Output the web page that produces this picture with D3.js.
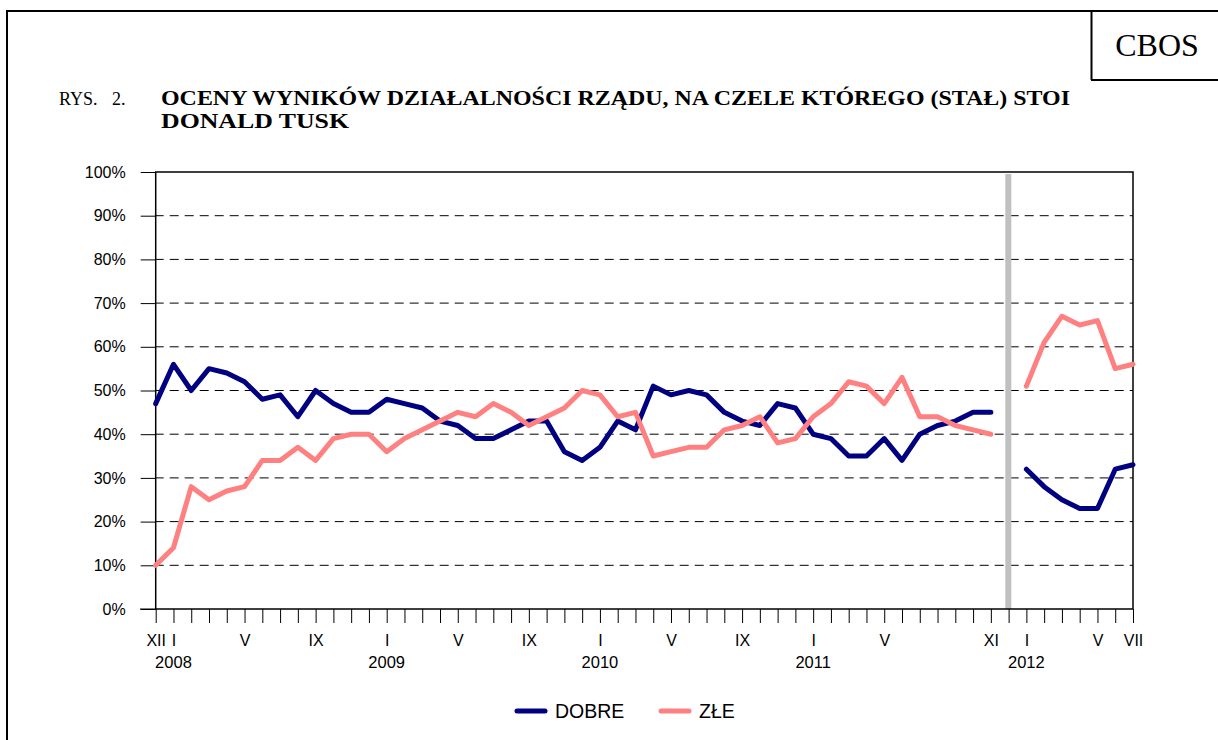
<!DOCTYPE html>
<html>
<head>
<meta charset="utf-8">
<script src="https://cdn.jsdelivr.net/npm/d3@7/dist/d3.min.js"></script>
<style>
  html, body { margin: 0; padding: 0; background: #fff; }
  svg { display: block; }
</style>
</head>
<body>
<svg id="chart" width="1218" height="740"></svg>
<script>
'use strict';

// months from XII 2007 to VII 2012, one slot per month (XII 2011 is the break)
var startYear = 2007, startMonth = 12, monthCount = 56;
var romans = ['I','II','III','IV','V','VI','VII','VIII','IX','X','XI','XII'];

// DOBRE - good opinions (%)
var dobre = [47,56,50,55,54,52,48,49,44,50,47,45,45,48,47,46,43,42,39,
             39,41,43,43,36,34,37,43,41,51,49,50,49,45,43,42,47,46,40,39,35,
             35,39,34,40,42,43,45,45,
             null,
             32,28,25,23,23,32,33];

// ZŁE - bad opinions (%)
var zle = [10,14,28,25,27,28,34,34,37,34,39,40,40,36,39,41,43,45,44,
           47,45,42,44,46,50,49,44,45,35,36,37,37,41,42,44,38,39,44,47,52,
           51,47,53,44,44,42,41,40,
           null,
           51,61,67,65,66,55,56];

// which months get a roman label under the axis
var labelledMonths = ['2007-12','2008-1','2008-5','2008-9','2009-1','2009-5','2009-9',
                      '2010-1','2010-5','2010-9','2011-1','2011-5','2011-11',
                      '2012-1','2012-5','2012-7'];
var yearLabels = ['2008','2009','2010','2011','2012'];
var breakMonth = '2011-12';

var yTicks = [0,10,20,30,40,50,60,70,80,90,100];

var seriesNames = ['DOBRE', 'ZŁE'];
var seriesColors = ['#000080', '#ff8080'];

// build month keys
var months = d3.range(monthCount).map(function(i) {
  var m = (startMonth - 1 + i) % 12,
      y = startYear + Math.floor((startMonth - 1 + i) / 12);
  return { key: y + '-' + (m + 1), year: y, month: m + 1, roman: romans[m] };
});
var keys = months.map(function(d) { return d.key; });

var svg = d3.select('#chart');
var sans = '"Liberation Sans", Arial, sans-serif',
    serif = '"Liberation Serif", "Times New Roman", serif';

var plot = { left: 155.7, right: 1133, top: 172, bottom: 609 };

var x = d3.scalePoint().domain(keys).range([plot.left, plot.right]);
var y = d3.scaleLinear().domain([0, 100]).range([plot.bottom, plot.top]);

// ---- page frame
svg.append('line').attr('x1', 7).attr('x2', 1218).attr('y1', 11).attr('y2', 11)
  .style('stroke', '#000').style('stroke-width', 2);
svg.append('line').attr('x1', 7).attr('x2', 7).attr('y1', 10).attr('y2', 740)
  .style('stroke', '#000').style('stroke-width', 2);
svg.append('line').attr('x1', 1091.5).attr('x2', 1091.5).attr('y1', 11).attr('y2', 80)
  .style('stroke', '#000').style('stroke-width', 2);
svg.append('line').attr('x1', 1091).attr('x2', 1218).attr('y1', 80).attr('y2', 80)
  .style('stroke', '#000').style('stroke-width', 2);
svg.append('text').attr('x', 1157).attr('y', 56).attr('text-anchor', 'middle')
  .style('font-family', serif).style('font-size', '32px').text('CBOS');

// ---- title
svg.append('text').attr('x', 59).attr('y', 105)
  .style('font-family', serif).style('font-size', '18px').text('RYS.');
svg.append('text').attr('x', 112).attr('y', 105)
  .style('font-family', serif).style('font-size', '18px').text('2.');
svg.append('text').attr('x', 161).attr('y', 105)
  .attr('textLength', 909).attr('lengthAdjust', 'spacingAndGlyphs')
  .style('font-family', serif).style('font-size', '20px').style('font-weight', 'bold')
  .text('OCENY WYNIKÓW DZIAŁALNOŚCI RZĄDU, NA CZELE KTÓREGO (STAŁ) STOI');
svg.append('text').attr('x', 161).attr('y', 128)
  .attr('textLength', 188).attr('lengthAdjust', 'spacingAndGlyphs')
  .style('font-family', serif).style('font-size', '20px').style('font-weight', 'bold')
  .text('DONALD TUSK');

// ---- gridlines
var g = svg.append('g');
g.selectAll('line.grid')
  .data(yTicks.filter(function(t) { return t > 0 && t < 100; }))
  .enter().append('line')
  .attr('class', 'grid')
  .attr('x1', plot.left).attr('x2', plot.right)
  .attr('y1', function(d) { return y(d); }).attr('y2', function(d) { return y(d); })
  .style('stroke', '#000').style('stroke-width', 1)
  .style('stroke-dasharray', '9,6').style('stroke-dashoffset', -14);

// break marker
g.append('rect')
  .attr('x', x(breakMonth) - 3.3).attr('width', 6)
  .attr('y', 174).attr('height', plot.bottom - 174)
  .style('fill', '#c0c0c0');

// plot frame
g.append('rect')
  .attr('x', plot.left).attr('y', plot.top)
  .attr('width', plot.right - plot.left).attr('height', plot.bottom - plot.top)
  .style('fill', 'none').style('stroke', '#000').style('stroke-width', 1.5);

// ---- y axis
var yAxis = d3.axisLeft(y).tickValues(yTicks).tickSize(15).tickPadding(15)
  .tickFormat(function(d) { return d + '%'; });
var yg = svg.append('g').attr('transform', 'translate(' + plot.left + ',0)').call(yAxis);
yg.select('.domain').remove();
yg.selectAll('line').style('stroke', '#000');
yg.selectAll('text').style('font-family', sans).style('font-size', '16px').style('fill', '#000');

// ---- x axis
var xAxis = d3.axisBottom(x).tickSize(14).tickSizeOuter(0).tickPadding(12)
  .tickFormat(function(k) {
    if (labelledMonths.indexOf(k) < 0) return '';
    return months[keys.indexOf(k)].roman;
  });
var xg = svg.append('g').attr('transform', 'translate(0,' + plot.bottom + ')').call(xAxis);
xg.select('.domain').remove();
xg.selectAll('line').style('stroke', '#000');
xg.selectAll('text').style('font-family', sans).style('font-size', '16px').style('fill', '#000');
svg.append('line').attr('x1', 140).attr('x2', plot.left).attr('y1', plot.bottom).attr('y2', plot.bottom)
  .style('stroke', '#000');

// year labels under January
svg.selectAll('text.year').data(yearLabels).enter().append('text')
  .attr('class', 'year')
  .attr('x', function(d) { return x(d + '-1'); })
  .attr('y', 668)
  .attr('text-anchor', 'middle')
  .style('font-family', sans).style('font-size', '16.5px')
  .text(function(d) { return d; });

// ---- lines
var line = d3.line()
  .defined(function(d) { return d.v !== null; })
  .x(function(d) { return x(d.k); })
  .y(function(d) { return y(d.v); });

[dobre, zle].forEach(function(series, si) {
  var pts = series.map(function(v, i) { return { k: keys[i], v: v }; });
  svg.append('path')
    .attr('d', line(pts))
    .style('fill', 'none')
    .style('stroke', seriesColors[si])
    .style('stroke-width', 5)
    .style('stroke-linejoin', 'round')
    .style('stroke-linecap', 'round');
});

// ---- legend
var legendX = [515, 659];
var legend = svg.selectAll('g.legend').data(seriesNames).enter().append('g')
  .attr('class', 'legend')
  .attr('transform', function(d, i) { return 'translate(' + legendX[i] + ',711)'; });
legend.append('line').attr('x1', 2).attr('x2', 30).attr('y1', 0).attr('y2', 0)
  .style('stroke', function(d, i) { return seriesColors[i]; })
  .style('stroke-width', 5).style('stroke-linecap', 'round');
legend.append('text').attr('x', 40).attr('y', 7)
  .style('font-family', sans).style('font-size', '19.5px')
  .text(function(d) { return d; });
</script>
</body>
</html>
